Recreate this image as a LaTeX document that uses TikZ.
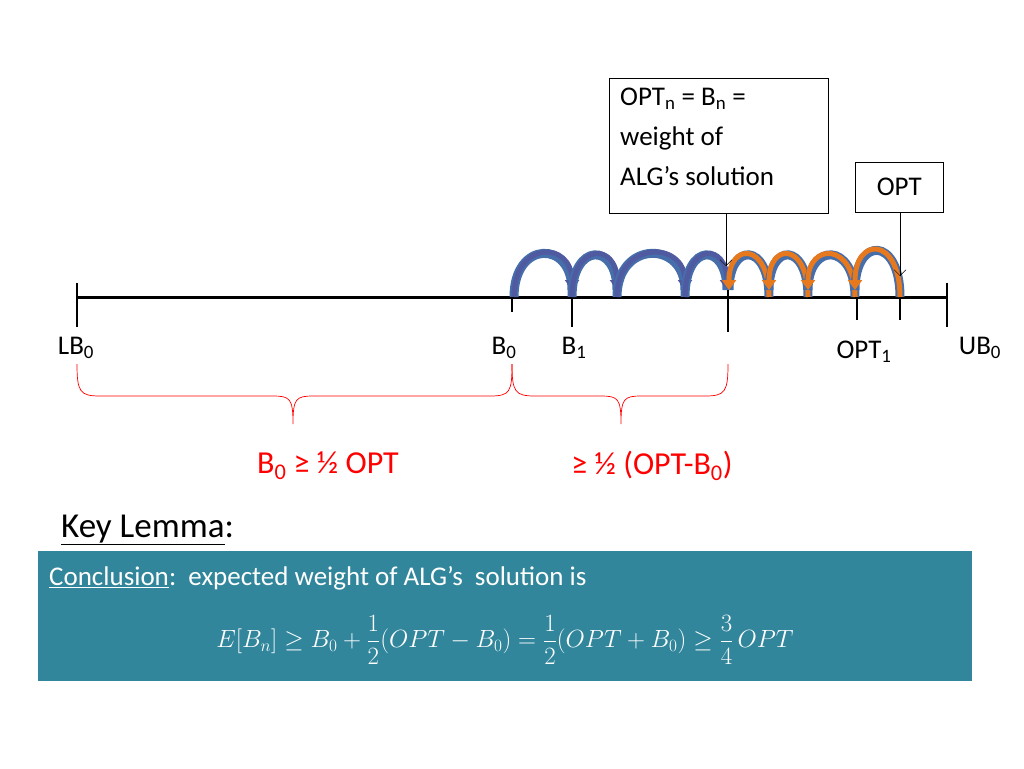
\documentclass[tikz,border=0pt]{standalone}
\usepackage{fontspec}
\setmainfont{Carlito}
\usetikzlibrary{arrows.meta}
\definecolor{teal1}{RGB}{49,134,155}
\definecolor{arcblue}{RGB}{80,90,160}
\definecolor{arcor}{RGB}{230,120,30}
\definecolor{arcedge}{RGB}{70,110,170}
\begin{document}
\begin{tikzpicture}[x=1pt,y=-1pt,
 lbl/.style={font=\fontsize{27}{30}\selectfont,inner sep=0pt},
 box/.style={draw,fill=white,font=\fontsize{27}{40}\selectfont,align=left,inner sep=0pt},
 tick/.style={line width=2.5pt},
 brace/.style={red,line width=0.7pt}]
\useasboundingbox (0,0) rectangle (1024,768);
% axis
\coordinate (L) at (77,297); \coordinate (R) at (947,297);
\draw[line width=3pt] (L) -- (R);
\foreach \x/\a/\b in {77/283/327,512/283/312,572/283/327,728/283/332,857/283/320,900/283/320,947/283/327}
  \draw[tick] (\x,\a) -- (\x,\b);
% arcs
\foreach \a/\b/\h in {514/572/240,572/617/242,617/685/240,685/727/242}{
  \draw[arcedge,line width=9pt] (\a,297) .. controls (\a,\h) and (\b,\h) .. (\b,290);
  \draw[arcblue,line width=5pt,-{Triangle[length=10pt,width=14pt]}] (\a,297) .. controls (\a,\h) and (\b,\h) .. (\b,290);
}
\foreach \a/\b/\h in {769/729/242,808/769/242,855/808/242,900/855/236}{
  \draw[arcedge,line width=9pt] (\a,297) .. controls (\a,\h) and (\b,\h) .. (\b,290);
  \draw[arcor,line width=5pt,-{Triangle[length=10pt,width=14pt]}] (\a,297) .. controls (\a,\h) and (\b,\h) .. (\b,290);
}
% labels
\node[lbl] (lb) at (76,348) {LB\textsubscript{0}};
\node[lbl] (b0) at (504,348) {B\textsubscript{0}};
\node[lbl] (b1) at (574,348) {B\textsubscript{1}};
\node[lbl] (o1) at (864,352) {OPT\textsubscript{1}};
\node[lbl] (ub) at (980,348) {UB\textsubscript{0}};
% boxes
\draw[fill=white] (609,78) rectangle (828,213);
\node[lbl,anchor=north west,align=left,font=\fontsize{27}{40}\selectfont] (optn) at (620,88) {OPT\textsubscript{n} = B\textsubscript{n} =\\weight of\\ALG’s solution};
\node[box,anchor=north west,minimum width=88pt,minimum height=50pt] (opt) at (855,162) {OPT};
\coordinate (t1) at (726,266); \coordinate (t2) at (900,276);
\draw[-{Straight Barb[length=6pt]}] (726,213) -- (t1);
\draw[-{Straight Barb[length=6pt]}] (opt.south -| 900,0) -- (t2);
% braces
\draw[brace] (77,364) .. controls (77,392) and (80,396) .. (100,396) -- (272,396) .. controls (290,396) and (293,398) .. (293,424)
  .. controls (293,398) and (296,396) .. (314,396) -- (490,396) .. controls (510,396) and (512,392) .. (512,364);
\draw[brace] (512,364) .. controls (512,392) and (515,396) .. (535,396) -- (600,396) .. controls (618,396) and (621,398) .. (621,424)
  .. controls (621,398) and (624,396) .. (642,396) -- (705,396) .. controls (725,396) and (728,392) .. (728,364);
\node[lbl,red,font=\fontsize{32}{34}\selectfont] (l1) at (328,466) {B\textsubscript{0} ≥ ½ OPT};
\node[lbl,red,font=\fontsize{32}{34}\selectfont] (l2) at (652,466) {≥ ½ (OPT-B\textsubscript{0})};
% lemma
\node[lbl,anchor=west,font=\fontsize{35}{38}\selectfont] (kl) at (61,530) {\underline{Key Lemma}:};
\fill[teal1] (38,551) rectangle (972,681);
\node[lbl,white,anchor=west] (c) at (49,578) {\underline{Conclusion}:\ \ expected weight of ALG’s\ \ solution is};
\node[white,font=\fontsize{26}{28}\selectfont] (eq) at (505,640) {$\displaystyle E[B_n]\ge B_0+\frac12(OPT-B_0)=\frac12(OPT+B_0)\ge\frac34\,OPT$};
\end{tikzpicture}
\end{document}
